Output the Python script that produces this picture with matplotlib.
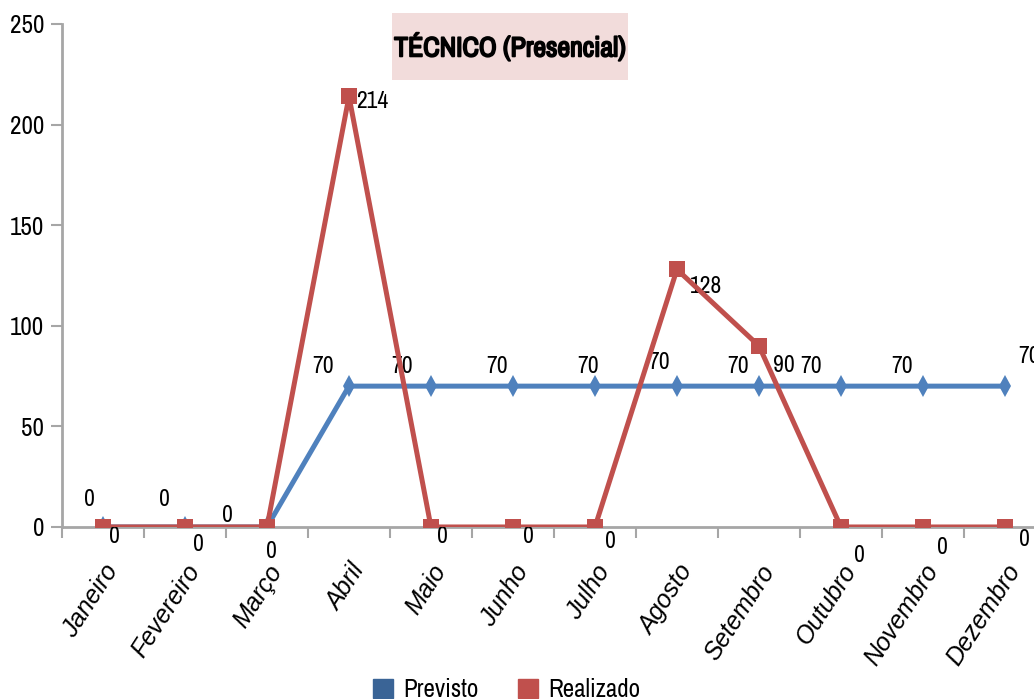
import matplotlib
matplotlib.use("Agg")
import matplotlib.pyplot as plt
from matplotlib.patches import Patch, Rectangle
from matplotlib import font_manager
import matplotlib.patheffects as pe

# procura uma fonte estreita instalada (parecida com a Calibri do Excel)
nomes = sorted({f.name for f in font_manager.fontManager.ttflist})
estreitas = [n for n in nomes if "Narrow" in n or "Condensed" in n]
plt.rcParams['font.family'] = estreitas[:1] + ['Liberation Sans', 'DejaVu Sans']

meses = ["Janeiro", "Fevereiro", "Março", "Abril", "Maio", "Junho",
         "Julho", "Agosto", "Setembro", "Outubro", "Novembro", "Dezembro"]
previsto = [0, 0, 0, 70, 70, 70, 70, 70, 70, 70, 70, 70]
realizado = [0, 0, 0, 214, 0, 0, 0, 128, 90, 0, 0, 0]

# deslocamento dos rótulos em pixels (como o Excel espalhou)
off_prev = [(-14, 27), (-21, 27), (-40, 11), (-26, 20), (-29, 20), (-16, 20),
            (-7, 20), (-18, 24), (-21, 20), (-30, 20), (-21, 20), (24, 30)]
off_real = [(11, -10), (13, -18), (4, -25), (23, -5), (11, -10), (15, -10),
            (15, -15), (29, -17), (25, -20), (18, -29), (19, -21), (19, -13)]

cor_prev = "#4f81bd"
cor_real = "#c0504d"
cinza = "#a6a6a6"

fig = plt.figure(figsize=(10.34, 6.99), dpi=100)
ax = fig.add_axes([0.05996, 0.2461, 0.9516, 0.7196])

x = list(range(len(meses)))
ax.plot(x, previsto, color=cor_prev, lw=3.6, marker="d", ms=11,
        markeredgewidth=0, zorder=3)
ax.plot(x, realizado, color=cor_real, lw=3.6, marker="s", ms=11,
        markeredgewidth=0, zorder=4)

for i, v in enumerate(previsto):
    ax.annotate(str(v), (i, v), xytext=off_prev[i], textcoords="offset pixels",
                ha="center", va="center", fontsize=17, annotation_clip=False)
for i, v in enumerate(realizado):
    ax.annotate(str(v), (i, v), xytext=off_real[i], textcoords="offset pixels",
                ha="center", va="center", fontsize=17, annotation_clip=False)

ax.set_xlim(-0.5, 11.5)
ax.set_ylim(0, 250)
ax.set_yticks([0, 50, 100, 150, 200, 250])
ax.set_xticks([i - 0.5 for i in range(13)])
ax.set_xticklabels([])
ax.set_xticks(x, minor=True)
# a fonte estreita não tem itálico, então os meses usam a Liberation Sans
ax.set_xticklabels(meses, minor=True, rotation=57, ha="right", va="top",
                   rotation_mode="anchor", fontstyle="italic", fontsize=18,
                   family=["Liberation Sans", "DejaVu Sans"])
ax.tick_params(axis="x", which="minor", length=0, pad=24)
ax.tick_params(axis="x", which="major", length=8, width=1.5, color=cinza)
ax.tick_params(axis="y", length=8, width=1.5, color=cinza, labelsize=18, pad=5)

for s in ["top", "right"]:
    ax.spines[s].set_visible(False)
for s in ["left", "bottom"]:
    ax.spines[s].set_color(cinza)
    ax.spines[s].set_linewidth(2)

# caixa do título
fig.patches.append(Rectangle((0.379, 0.8856), 0.2282, 0.0959, facecolor="#f2dcdb",
                             edgecolor="none", transform=fig.transFigure))
fig.text(0.4932, 0.9328, "TÉCNICO (Presencial)", ha="center", va="center",
         fontsize=20, fontweight="bold",
         path_effects=[pe.withStroke(linewidth=1.3, foreground="black")])

handles = [Patch(color="#3a6496", label="Previsto"),
           Patch(color=cor_real, label="Realizado")]
fig.legend(handles=handles, loc="lower center", bbox_to_anchor=(0.49, -0.035),
           ncol=2, frameon=False, fontsize=18, handlelength=0.8,
           handleheight=0.8, columnspacing=1.6, handletextpad=0.4)

fig.savefig("out.png", dpi=100)
